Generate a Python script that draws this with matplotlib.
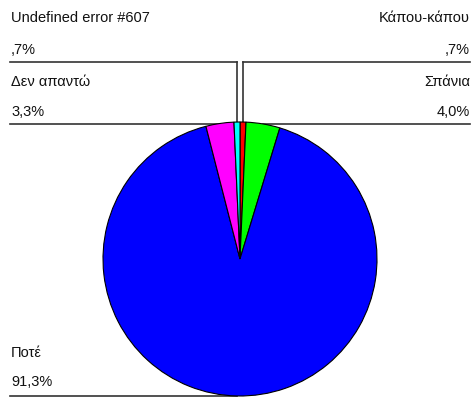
import numpy as np
import matplotlib
matplotlib.use('Agg')
import matplotlib.pyplot as plt

# Slice data, clockwise from 12 o'clock
labels = ['Κάπου-κάπου', 'Σπάνια', 'Ποτέ', 'Δεν απαντώ', 'Undefined error #607']
pct_text = [',7%', '4,0%', '91,3%', '3,3%', ',7%']
values = [0.7, 4.0, 91.3, 3.3, 0.7]
colors = ['#ff0000', '#00ff00', '#0000ff', '#ff00ff', '#00ffff']

plt.rcParams['font.family'] = ['Liberation Sans', 'DejaVu Sans']

W, H = 472, 397
fig = plt.figure(figsize=(W / 100, H / 100), dpi=100)
ax = fig.add_axes([0, 0, 1, 1])

cx, cy, r = 240, H - 259, 137
ax.pie(values, colors=colors, startangle=90, counterclock=False,
       center=(cx, cy), radius=r,
       wedgeprops=dict(edgecolor='black', linewidth=0.8))
ax.set_xlim(0, W)
ax.set_ylim(0, H)
ax.set_aspect('equal')
ax.axis('off')

# mid angle of each wedge (degrees, clockwise from top)
cum = np.cumsum([0] + values)
total = cum[-1]
mids = [(cum[i] + cum[i + 1]) / 2 / total * 360 for i in range(len(values))]

def edge_point(i):
    a = np.radians(mids[i])
    return cx + r * np.sin(a), cy + r * np.cos(a)

fs = 10.5
lc = '#333333'
# label layout: (index, side, name y, pct y, line y) in pixel rows from top
layout = [
    (0, 'right', 18, 50, 62),
    (1, 'right', 82, 112, 124),
    (4, 'left', 18, 50, 62),
    (3, 'left', 82, 112, 124),
    (2, 'left', 353, 382, 396),
]
for i, side, ny, py, ly in layout:
    ex, ey = edge_point(i)
    line_y = H - ly
    if side == 'left':
        tx, ha, x_end = 11, 'left', 10
    else:
        tx, ha, x_end = 470, 'right', 470
    ax.text(tx, H - ny, labels[i], ha=ha, va='center', fontsize=fs, color='#111111')
    ax.text(tx, H - py, pct_text[i], ha=ha, va='center', fontsize=fs, color='#111111')
    ax.plot([x_end, ex], [line_y, line_y], color=lc, lw=1.2, zorder=0)
    if abs(ey - line_y) > 2:
        ax.plot([ex, ex], [line_y, ey], color=lc, lw=1.2, zorder=0)

fig.savefig('out.png', dpi=100)
